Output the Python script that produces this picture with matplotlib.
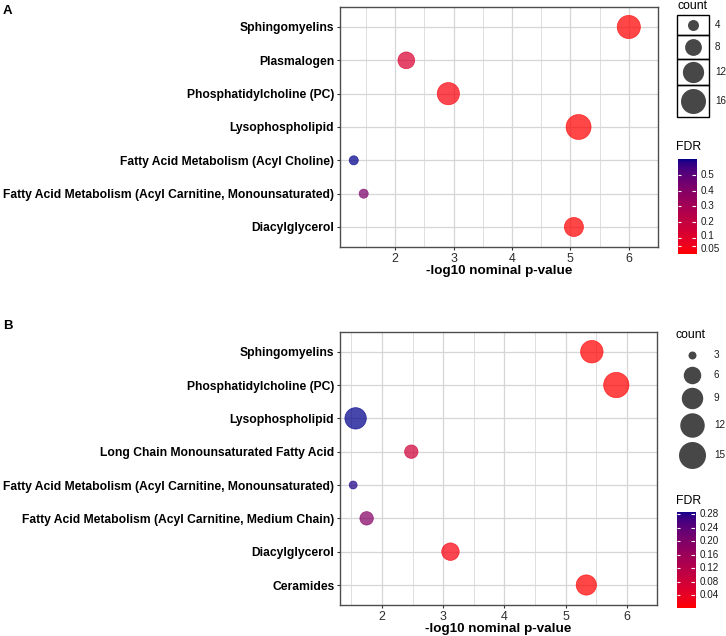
import numpy as np
import matplotlib
matplotlib.use("Agg")
import matplotlib.pyplot as plt
from matplotlib.colors import ListedColormap, Normalize
from matplotlib.patches import Rectangle

plt.rcParams['font.family'] = ['Liberation Sans', 'DejaVu Sans']

# Panel A data
a_terms = ["Sphingomyelins", "Plasmalogen", "Phosphatidylcholine (PC)", "Lysophospholipid",
           "Fatty Acid Metabolism (Acyl Choline)",
           "Fatty Acid Metabolism (Acyl Carnitine, Monounsaturated)", "Diacylglycerol"]
a_logp = [6.00, 2.19, 2.91, 5.14, 1.29, 1.46, 5.06]
a_count = [14, 8, 13, 16, 3, 3, 10]
a_fdr = [0.002, 0.13, 0.02, 0.003, 0.598, 0.42, 0.003]
a_size_breaks = [4, 8, 12, 16]
a_fdr_ticks = [0.05, 0.1, 0.2, 0.3, 0.4, 0.5]
a_fdr_labels = ["0.05", "0.1", "0.2", "0.3", "0.4", "0.5"]

# Panel B data
b_terms = ["Sphingomyelins", "Phosphatidylcholine (PC)", "Lysophospholipid",
           "Long Chain Monounsaturated Fatty Acid",
           "Fatty Acid Metabolism (Acyl Carnitine, Monounsaturated)",
           "Fatty Acid Metabolism (Acyl Carnitine, Medium Chain)", "Diacylglycerol", "Ceramides"]
b_logp = [5.43, 5.83, 1.57, 2.48, 1.53, 1.75, 3.12, 5.34]
b_count = [10, 13, 9, 4, 3, 4, 6, 8]
b_fdr = [0.001, 0.001, 0.287, 0.08, 0.28, 0.19, 0.012, 0.002]
b_size_breaks = [3, 6, 9, 12, 15]
b_fdr_ticks = [0.04, 0.08, 0.12, 0.16, 0.20, 0.24, 0.28]
b_fdr_labels = ["0.04", "0.08", "0.12", "0.16", "0.20", "0.24", "0.28"]

W, H = 726, 636
fig = plt.figure(figsize=(W/100, H/100), dpi=100)


def px_axes(x0, y0, x1, y1):
    return fig.add_axes([x0/W, 1 - y1/H, (x1 - x0)/W, (y1 - y0)/H])


#Red -> darkblue gradient in Lab space, like ggplot

WHITE = np.array([0.95047, 1.0, 1.08883])
M = np.array([[0.4124, 0.3576, 0.1805], [0.2126, 0.7152, 0.0722], [0.0193, 0.1192, 0.9505]])
MINV = np.linalg.inv(M)


def to_lab(rgb):
    c = np.array(rgb, float)
    lin = np.where(c <= 0.04045, c/12.92, ((c + 0.055)/1.055)**2.4)
    xyz = M @ lin / WHITE
    f = np.where(xyz > 0.008856, np.cbrt(xyz), 7.787*xyz + 16/116)
    return np.array([116*f[1] - 16, 500*(f[0] - f[1]), 200*(f[1] - f[2])])


def to_rgb(lab):
    fy = (lab[0] + 16)/116
    f = np.array([fy + lab[1]/500, fy, fy - lab[2]/200])
    xyz = np.where(f**3 > 0.008856, f**3, (f - 16/116)/7.787) * WHITE
    lin = np.clip(MINV @ xyz, 0, None)
    c = np.where(lin <= 0.0031308, 12.92*lin, 1.055*lin**(1/2.4) - 0.055)
    return np.clip(c, 0, 1)


low = to_lab([1, 0, 0])
high = to_lab([0, 0, 0x8B/255])
cmap = ListedColormap([to_rgb(low + (high - low)*t) for t in np.linspace(0, 1, 256)])


def diam_a(c):
    return 7*np.sqrt(np.array(c, float)) - 3


def diam_b(c):
    return 8 + 19*np.sqrt((np.array(c, float) - 3)/12)


def s_of(d):
    return (np.asarray(d)*0.72)**2


def dot_panel(box, terms, logp, count, fdr, diam, xticks, vmin, vmax):
    ax = px_axes(*box)
    n = len(terms)
    ypos = n - np.arange(n)
    norm = Normalize(vmin, vmax)
    cols = cmap(norm(fdr))
    ax.scatter(logp, ypos, s=s_of(diam(count)), c=cols, alpha=0.72,
               edgecolors=cols, linewidths=0.5, zorder=3)
    lo, hi = min(logp), max(logp)
    pad = (hi - lo)*0.05
    ax.set_xlim(lo - pad, hi + pad)
    ax.set_ylim(0.4, n + 0.6)
    ax.set_yticks(ypos)
    ax.set_yticklabels(terms, fontsize=8.7, fontweight="bold", color="black")
    ax.set_xticks(xticks)
    ax.set_xticklabels([str(t) for t in xticks], fontsize=8.9, color="#2b2b2b")
    ax.set_xticks(np.arange(xticks[0] - 0.5, xticks[-1] + 0.6, 1.0), minor=True)
    ax.grid(which="major", color="#d6d6d6", lw=0.9, zorder=0)
    ax.grid(which="minor", axis="x", color="#dedede", lw=0.7, zorder=0)
    ax.tick_params(which="major", length=2.5, width=0.8, color="#333333", pad=1.6)
    ax.tick_params(which="minor", length=0)
    for sp in ax.spines.values():
        sp.set_color("#4d4d4d")
        sp.set_linewidth(1.0)
    ax.set_axisbelow(True)
    ax.set_xlabel("-log10 nominal p-value", fontsize=9.7, fontweight="bold", labelpad=0.5)
    return ax


def colorbar(box, vmin, vmax, ticks, labels, nudges, title_y):
    cax = px_axes(*box)
    grad = np.linspace(vmin, vmax, 256).reshape(-1, 1)
    cax.imshow(grad, cmap=cmap, aspect="auto", origin="lower",
               extent=(0, 1, vmin, vmax), vmin=vmin, vmax=vmax)
    cax.set_xlim(0, 1)
    cax.set_ylim(vmin, vmax)
    cax.hlines(ticks, 0, 0.2, color="white", lw=0.8)
    cax.hlines(ticks, 0.8, 1, color="white", lw=0.8)
    cax.axis("off")
    for t, lab, dy in zip(ticks, labels, nudges):
        cax.annotate(lab, (1, t), xytext=(3.5, dy), textcoords="offset points",
                     fontsize=7.1, color="#1a1a1a", ha="left", va="center",
                     annotation_clip=False)
    fig.text(676/W, 1 - title_y/H, "FDR", fontsize=8.8, ha="left", va="center")


#Panel A

ax_a = dot_panel((340, 7, 658, 247), a_terms, a_logp, a_count, a_fdr, diam_a,
                 [2, 3, 4, 5, 6], min(a_fdr), max(a_fdr))
fig.text(3/W, 1 - 11.5/H, "A", fontsize=9.5, fontweight="bold", ha="left", va="center")

leg_a = px_axes(660, 0, 726, 130)
leg_a.set_xlim(660, 726)
leg_a.set_ylim(130, 0)
leg_a.axis("off")
edges = [14.7, 35.3, 58.7, 85.3, 116.7]
for i, br in enumerate(a_size_breaks):
    leg_a.add_patch(Rectangle((677.3, edges[i]), 31.4, edges[i+1] - edges[i],
                              fill=False, ec="black", lw=1.0))
    yc = (edges[i] + edges[i+1])/2
    leg_a.scatter([693], [yc], s=s_of(diam_a(br)), c="#333333", alpha=0.9, lw=0)
    leg_a.text(715, yc, str(br), fontsize=7.1, ha="left", va="center", color="#1a1a1a")
leg_a.text(677, 6, "count", fontsize=8.8, ha="left", va="center")

colorbar((677.7, 159, 696, 254), min(a_fdr) - 0.001, max(a_fdr), a_fdr_ticks, a_fdr_labels,
         [-2.2, 1.6, 0, 0, 0, 0], 147)

#Panel B

ax_b = dot_panel((340, 331.7, 657.3, 605), b_terms, b_logp, b_count, b_fdr, diam_b,
                 [2, 3, 4, 5, 6], min(b_fdr), max(b_fdr))
fig.text(3/W, 1 - 326/H, "B", fontsize=9.5, fontweight="bold", ha="left", va="center")

leg_b = px_axes(660, 320, 726, 470)
leg_b.set_xlim(660, 726)
leg_b.set_ylim(470, 320)
leg_b.axis("off")
rows_b = [355, 375.5, 398, 425, 455]
for br, yc in zip(b_size_breaks, rows_b):
    leg_b.scatter([692], [yc], s=s_of(diam_b(br)), c="#333333", alpha=0.9, lw=0)
    leg_b.text(714, yc, str(br), fontsize=7.1, ha="left", va="center", color="#1a1a1a")
leg_b.text(675, 335, "count", fontsize=8.8, ha="left", va="center")

colorbar((676.7, 511.7, 695, 608.3), 0.0006, max(b_fdr), b_fdr_ticks, b_fdr_labels,
         [0]*7, 500.5)

fig.savefig("out.png", dpi=100)
